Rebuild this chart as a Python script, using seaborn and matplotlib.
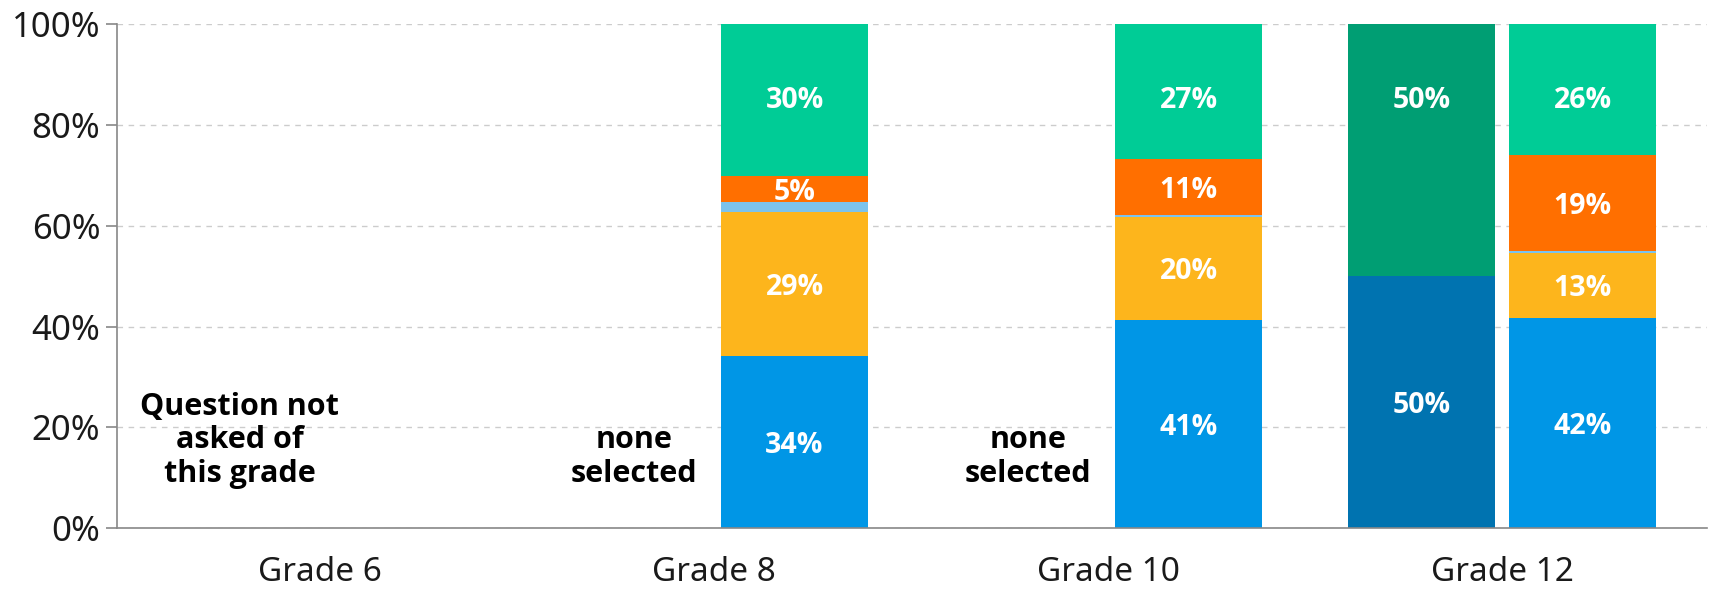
import pandas as pd
import matplotlib
matplotlib.use("Agg")
import matplotlib.pyplot as plt
import seaborn as sns

# chart data (percent of students)
grades = ["Grade 6", "Grade 8", "Grade 10", "Grade 12"]
bars = ["left", "right"]

# right-hand bar of each grade, bottom to top
right_blue = [0, 34.1, 41.4, 41.8]
right_yellow = [0, 28.7, 20.4, 12.9]
right_lightblue = [0, 2.0, 0.4, 0.3]
right_orange = [0, 5.1, 11.0, 19.0]
right_green = [0, 30.1, 26.8, 26.0]

# left-hand bar (only grade 12 has one)
left_blue = [0, 0, 0, 50]
left_yellow = [0, 0, 0, 0]
left_lightblue = [0, 0, 0, 0]
left_orange = [0, 0, 0, 0]
left_green = [0, 0, 0, 50]

# notes written where the left bar is missing
notes = ["Question not\nasked of\nthis grade", "none\nselected", "none\nselected", ""]

layers = ["blue", "yellow", "lightblue", "orange", "green"]
right_vals = [right_blue, right_yellow, right_lightblue, right_orange, right_green]
left_vals = [left_blue, left_yellow, left_lightblue, left_orange, left_green]
right_colors = ["#0096E6", "#FDB51C", "#7CC3EC", "#FF6F00", "#00CC96"]
left_colors = ["#0073B0", "#FDB51C", "#7CC3EC", "#FF6F00", "#009E73"]

BOLD_FONT = ["Open Sans", "Lato", "DejaVu Sans"]
TOP_LABEL_DROP = 14.5  # top-layer labels sit this far below the bar top


def build_frame():
    rows = []
    for i, g in enumerate(grades):
        for side, vals in (("left", left_vals), ("right", right_vals)):
            cum = 0
            for name, v in zip(layers, vals):
                rows.append({"grade": g, "side": side, "layer": name,
                             "value": v[i], "bottom": cum, "top": cum + v[i]})
                cum += v[i]
    return pd.DataFrame(rows)


def main():
    df = build_frame()

    sns.set_theme(style="white")
    plt.rcParams["font.family"] = ["Noto Sans", "DejaVu Sans"]

    fig, ax = plt.subplots(figsize=(17.09, 5.94), dpi=100)
    fig.subplots_adjust(left=0.0685, right=0.999, top=0.959, bottom=0.111)

    # stacked bars: draw cumulative tops from the highest layer down
    containers = {}
    for k in range(len(layers) - 1, -1, -1):
        sub = df[df["layer"] == layers[k]]
        n_before = len(ax.containers)
        sns.barplot(data=sub, x="grade", y="top", hue="side", order=grades,
                    hue_order=bars, palette={"left": left_colors[k], "right": right_colors[k]},
                    width=0.816, gap=0.086, errorbar=None, linewidth=0,
                    saturation=1, legend=False, ax=ax)
        containers[layers[k]] = ax.containers[n_before:]

    # value labels in each segment
    for k, name in enumerate(layers):
        left_c, right_c = containers[name]
        for side, cont in (("left", left_c), ("right", right_c)):
            sub = df[(df["layer"] == name) & (df["side"] == side)].set_index("grade").loc[grades]
            for patch, (_, r) in zip(cont.patches, sub.iterrows()):
                if r["value"] >= 4:
                    xc = patch.get_x() + patch.get_width() / 2
                    if name == "green":
                        yc = r["top"] - TOP_LABEL_DROP
                    else:
                        yc = r["bottom"] + r["value"] / 2
                    ax.text(xc, yc, f"{round(r['value'])}%",
                            ha="center", va="center_baseline", color="white",
                            fontsize=20.5, fontweight="bold", family=BOLD_FONT)

    # notes over the empty left slots
    left_c = containers["blue"][0]
    for patch, note in zip(left_c.patches, notes):
        if note:
            xc = patch.get_x() + patch.get_width() / 2
            ax.text(xc, 7.8, note, ha="center", va="bottom", color="black",
                    fontsize=22, fontweight="bold", linespacing=1.15, family=BOLD_FONT)

    ax.set_ylim(0, 100)
    ax.set_xlim(-0.515, 3.52)
    ax.set_yticks([0, 20, 40, 60, 80, 100])
    ax.set_yticklabels([f"{t}%" for t in [0, 20, 40, 60, 80, 100]])
    ax.set_xlabel("")
    ax.set_ylabel("")
    ax.yaxis.grid(True, linestyle=(0, (4, 4)), color="#cccccc", linewidth=1)
    ax.set_axisbelow(True)

    sns.despine(ax=ax)
    for s in ("left", "bottom"):
        ax.spines[s].set_color("#888888")
        ax.spines[s].set_linewidth(1.2)
    ax.tick_params(axis="y", left=True, length=8, width=1.2, color="#888888",
                   labelsize=25, pad=4, labelcolor="#1a1a1a")
    ax.tick_params(axis="x", bottom=False, labelsize=24, pad=14, labelcolor="#1a1a1a")

    fig.savefig("out.png", dpi=100)


if __name__ == "__main__":
    main()
